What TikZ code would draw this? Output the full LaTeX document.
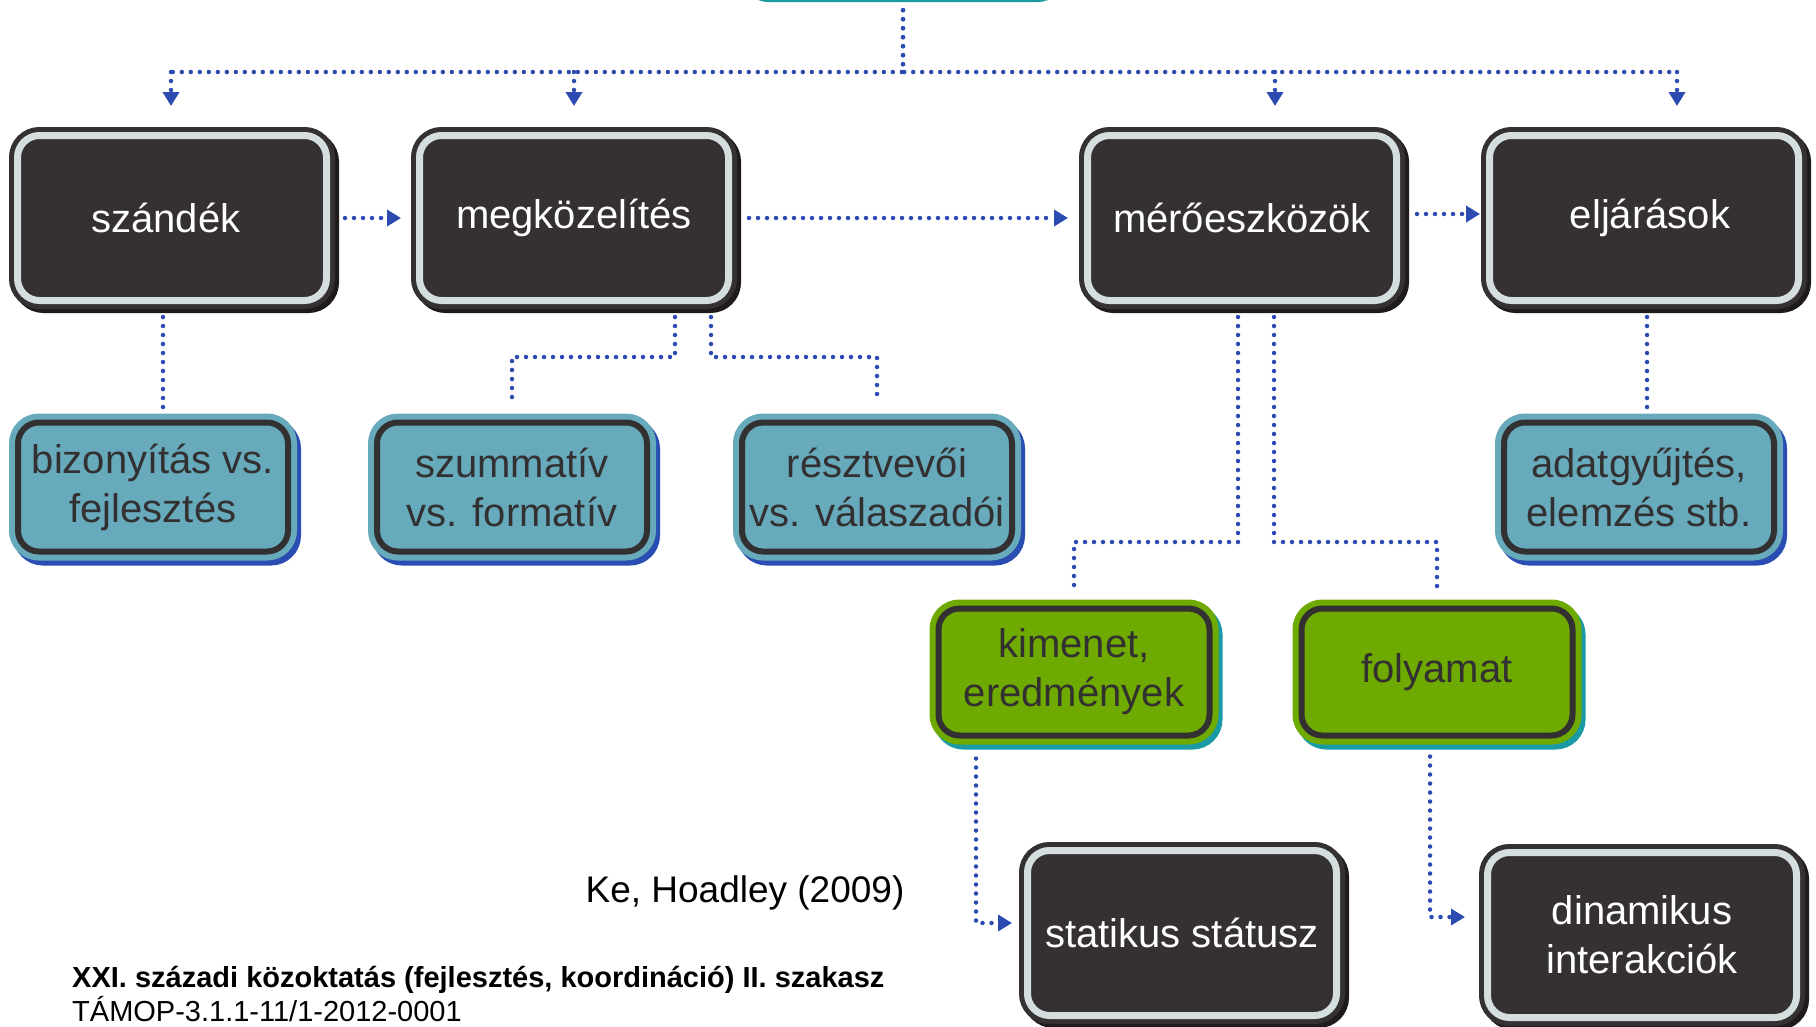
\documentclass[tikz,border=0pt]{standalone}
\usepackage{fontspec}
\setmainfont{Liberation Sans}
\usetikzlibrary{arrows.meta,shadows}
\definecolor{boxdark}{HTML}{353031}
\definecolor{ringgray}{HTML}{D5DEDF}
\definecolor{shadowdark}{HTML}{1F1B1C}
\definecolor{tealfill}{HTML}{66AABB}
\definecolor{inkdark}{HTML}{333031}
\definecolor{blueshadow}{HTML}{2A4DB3}
\definecolor{greenfill}{HTML}{6EAA00}
\definecolor{greenshadow}{HTML}{1A9AA5}
\definecolor{topteal}{HTML}{1A9AA0}
\definecolor{conn}{HTML}{2B4BB1}
\begin{document}
\begin{tikzpicture}[x=1pt,y=-1pt,
  boxtext/.style={font=\fontsize{40}{49}\selectfont, align=center, inner sep=0pt},
  darkbox/.style={boxtext, rounded corners=22pt, minimum width=309pt, minimum height=165pt,
    fill=boxdark, draw=boxdark, line width=5pt, double=ringgray, double distance=7pt, text=white,
    drop shadow={shadow xshift=4pt, shadow yshift=-4pt, opacity=1, fill=shadowdark, draw=shadowdark, line width=17pt}},
  tealbox/.style={boxtext, rounded corners=21pt, minimum width=270pt, minimum height=129pt,
    fill=tealfill, draw=tealfill, line width=6pt, double=inkdark, double distance=6pt, text=inkdark,
    drop shadow={shadow xshift=4pt, shadow yshift=-5pt, opacity=1, fill=blueshadow, draw=blueshadow, line width=18pt}},
  greenbox/.style={boxtext, rounded corners=21pt, minimum width=271pt, minimum height=127pt,
    fill=greenfill, draw=greenfill, line width=6pt, double=inkdark, double distance=6pt, text=inkdark,
    drop shadow={shadow xshift=4pt, shadow yshift=-5pt, opacity=1, fill=greenshadow, draw=greenshadow, line width=18pt}},
  topbox/.style={rounded corners=25pt, minimum width=320pt, minimum height=104pt, fill=topteal, draw=none, inner sep=0pt},
  dotline/.style={draw=conn, line width=4.5pt, dash pattern=on 0pt off 9pt, line cap=round},
  dotarrow/.style={dotline, -{Triangle[length=14pt,width=16pt]}}
]
\useasboundingbox (0,0) rectangle (1816,1026);
\clip (0,0) rectangle (1816,1026);
\fill[white] (0,0) rectangle (1816,1026);

% top (cut-off) node
\node[topbox] (top) at (903,-50) {};

% row 1
\node[darkbox] (szandek) at (172,218) {szándék\hspace*{12pt}};
\node[darkbox] (megk) at (574,218) {megközelítés};
\node[darkbox] (mero) at (1242,218) {mérőeszközök};
\node[darkbox] (elj) at (1644,218) {\hspace*{12pt}eljárások};

% row 2
\node[tealbox] (biz) at (153,487) {bizonyítás vs.\\fejlesztés};
\node[tealbox] (szum) at (512,487) {szummatív\\vs. formatív};
\node[tealbox] (resz) at (877,487) {résztvevői\\vs. válaszadói};
\node[tealbox] (adat) at (1639,487) {adatgyűjtés,\\elemzés stb.};

% row 3
\node[greenbox] (kim) at (1074,672) {kimenet,\\eredmények};
\node[greenbox] (foly) at (1437,672) {folyamat};

% row 4
\node[darkbox] (stat) at (1182,933) {statikus státusz};
\node[darkbox] (dyn) at (1642,935) {dinamikus\\interakciók};

% labels
\node[font=\fontsize{37}{44}\selectfont, inner sep=0pt] (cite) at (745,893) {Ke, Hoadley (2009)};
\node[anchor=base west, font=\bfseries\fontsize{29}{35}\selectfont, inner sep=0pt] (foot1) at (72,987) {XXI. századi közoktatás (fejlesztés, koordináció) II. szakasz};
\node[anchor=base west, font=\fontsize{29}{35}\selectfont, inner sep=0pt] (foot2) at (72,1021) {TÁMOP-3.1.1-11/1-2012-0001};

% top bus
\coordinate (busL) at (171,72);
\coordinate (busR) at (1677,72);
\coordinate (d3) at (1275,72);
\draw[dotline, shorten <=8pt] (top.south) |- (busL);
\draw[dotline, shorten <=8pt] (top.south) |- (busR);
\draw[dotarrow, shorten >=27pt] (busL) -- (busL |- szandek.north);
\draw[dotarrow, shorten >=27pt] (megk.north |- busL) -- (megk.north);
\draw[dotarrow, shorten >=27pt] (d3) -- (d3 |- mero.north);
\draw[dotarrow, shorten >=27pt] (busR) -- (busR |- elj.north);

% horizontal row-1 arrows
\draw[dotarrow, shorten <=16pt, shorten >=16pt] (szandek.east) -- (megk.west);
\draw[dotarrow, shorten <=18pt, shorten >=17pt] (megk.east) -- (mero.west);
\draw[dotarrow, shorten <=18pt, shorten >=7pt] ([yshift=4pt]mero.east) -- ([yshift=4pt]elj.west);

% row 1 -> row 2
\coordinate (m1) at (0,357);
\draw[dotline, shorten <=14pt, shorten >=11pt] ([xshift=-9pt]szandek.south) -- ([xshift=-9pt]szandek.south |- biz.north);
\draw[dotline, shorten <=14pt, shorten >=17pt] ([xshift=101pt]megk.south) |- (m1 -| szum.north) -- (szum.north);
\draw[dotline, shorten <=14pt, shorten >=17pt] ([xshift=137pt]megk.south) |- (m1 -| resz.north) -- (resz.north);
\draw[dotline, shorten <=14pt, shorten >=11pt] ([xshift=3pt]elj.south) -- ([xshift=3pt]elj.south |- adat.north);

% mero -> row 3
\coordinate (m2) at (0,542);
\draw[dotline, shorten <=14pt, shorten >=17pt] ([xshift=-4pt]mero.south) |- (m2 -| kim.north) -- (kim.north);
\draw[dotline, shorten <=14pt, shorten >=17pt] ([xshift=32pt]mero.south) |- (m2 -| foly.north) -- (foly.north);

% row 3 -> row 4
\draw[dotarrow, shorten <=20pt, shorten >=13pt] ([xshift=-98pt]kim.south) |- ([yshift=10pt]stat.west);
\draw[dotarrow, shorten <=18pt, shorten >=20pt] ([xshift=-7pt]foly.south) |- ([yshift=18pt]dyn.west);
\end{tikzpicture}
\end{document}
